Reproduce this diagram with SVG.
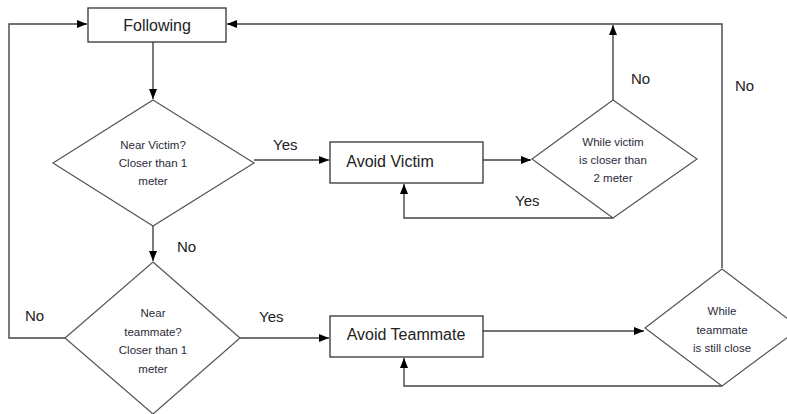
<svg xmlns="http://www.w3.org/2000/svg" width="787" height="414" viewBox="0 0 787 414">
<defs>
<marker id="ah" markerWidth="10" markerHeight="8" refX="10" refY="4" orient="auto" markerUnits="userSpaceOnUse">
<path d="M0,0 L10,4 L0,8 Z" fill="#000"/>
</marker>
<style>
.box{fill:#fff;stroke:#333;stroke-width:1.3}
.dia{fill:#fff;stroke:#555;stroke-width:1.2}
.ln{fill:none;stroke:#444;stroke-width:1.4}
.t1{font-family:"Liberation Sans",Arial,sans-serif;font-size:16px;fill:#222;text-anchor:middle}
.t2{font-family:"Liberation Sans",Arial,sans-serif;font-size:11.5px;fill:#2a2a3a;text-anchor:middle}
.lb{font-family:"Liberation Sans",Arial,sans-serif;font-size:15px;fill:#222}
</style>
</defs>
<rect width="787" height="414" fill="#fff"/>
<g id="connectors">
<path class="ln" d="M153,42 V99" marker-end="url(#ah)"/>
<path class="ln" d="M254,160 H329" marker-end="url(#ah)"/>
<path class="ln" d="M483,160 H531" marker-end="url(#ah)"/>
<path class="ln" d="M613,100 V25" marker-end="url(#ah)"/>
<path class="ln" d="M613,218 H404 V184" marker-end="url(#ah)"/>
<path class="ln" d="M722,268 V24 H227" marker-end="url(#ah)"/>
<path class="ln" d="M153,226 V261" marker-end="url(#ah)"/>
<path class="ln" d="M65,338 H9 V24 H87" marker-end="url(#ah)"/>
<path class="ln" d="M240,338 H329" marker-end="url(#ah)"/>
<path class="ln" d="M483,331 H644" marker-end="url(#ah)"/>
<path class="ln" d="M722,386 H404 V358" marker-end="url(#ah)"/>
<text class="lb" x="273" y="150">Yes</text>
<text class="lb" x="631" y="84">No</text>
<text class="lb" x="735" y="91">No</text>
<text class="lb" x="515" y="206">Yes</text>
<text class="lb" x="177" y="252">No</text>
<text class="lb" x="25" y="321">No</text>
<text class="lb" x="259" y="322">Yes</text>
</g>
<g id="following">
<rect class="box" x="88" y="8" width="138" height="34"/>
<text class="t1" x="157" y="31">Following</text>
</g>
<g id="nearVictim">
<polygon class="dia" points="153,100 254,163 153,226 53,163"/>
<text class="t2" x="153" y="149">Near Victim?</text>
<text class="t2" x="153" y="167">Closer than 1</text>
<text class="t2" x="153" y="185">meter</text>
</g>
<g id="avoidVictim">
<rect class="box" x="330" y="142" width="153" height="41"/>
<text class="t1" x="390" y="167">Avoid Victim</text>
</g>
<g id="whileVictim">
<polygon class="dia" points="613,100 697,159 613,218 532,159"/>
<text class="t2" x="613" y="146">While victim</text>
<text class="t2" x="613" y="164">is closer than</text>
<text class="t2" x="613" y="182">2 meter</text>
</g>
<g id="nearTeammate">
<polygon class="dia" points="153,262 240,338 153,414 65,338"/>
<text class="t2" x="153" y="317">Near</text>
<text class="t2" x="153" y="336">teammate?</text>
<text class="t2" x="153" y="354">Closer than 1</text>
<text class="t2" x="153" y="373">meter</text>
</g>
<g id="avoidTeammate">
<rect class="box" x="330" y="316" width="153" height="41"/>
<text class="t1" x="406" y="340">Avoid Teammate</text>
</g>
<g id="whileTeammate">
<polygon class="dia" points="722,269 800,328 722,386 645,328"/>
<text class="t2" x="722" y="315">While</text>
<text class="t2" x="722" y="334">teammate</text>
<text class="t2" x="722" y="352">is still close</text>
</g>
</svg>
